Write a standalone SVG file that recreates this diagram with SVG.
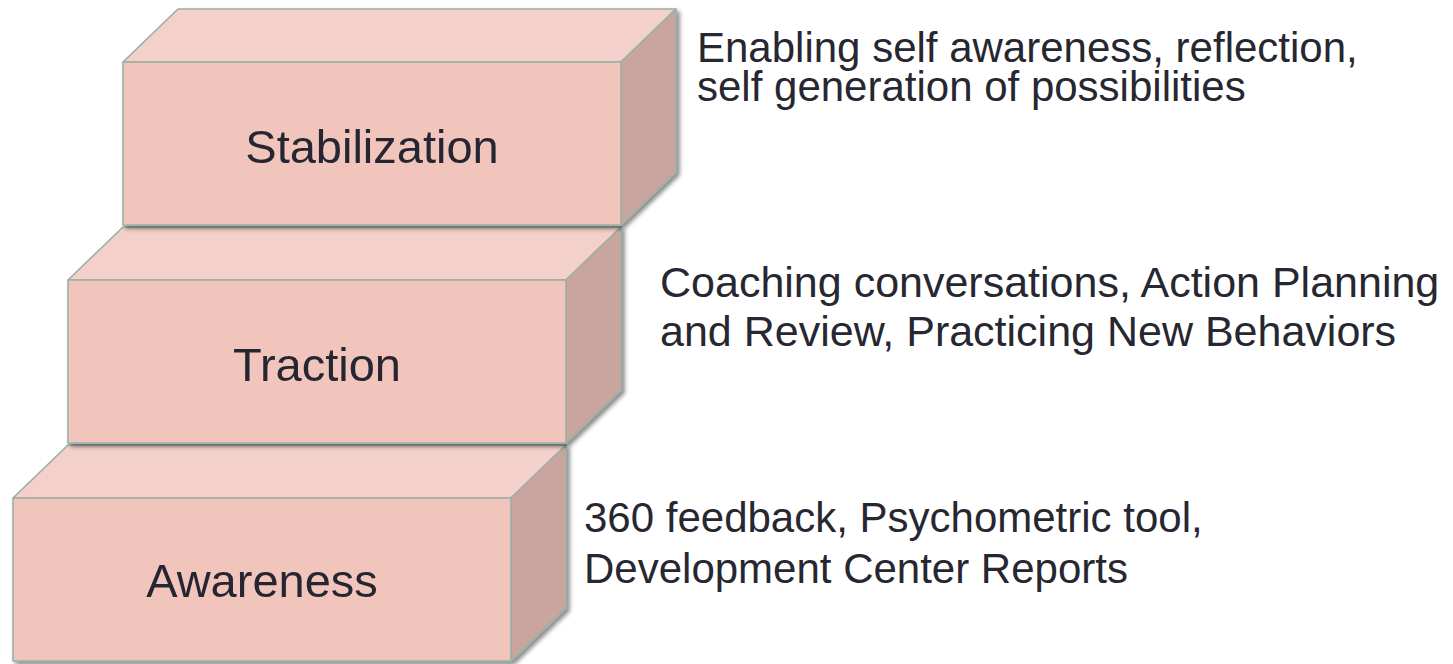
<svg xmlns="http://www.w3.org/2000/svg" width="1453" height="664" viewBox="0 0 1453 664">
<defs>
<filter id="sh" x="-5%" y="-5%" width="115%" height="115%">
<feDropShadow dx="3" dy="3" stdDeviation="2" flood-color="#000" flood-opacity="0.45"/>
</filter>
<style>
.front{fill:#F2C5BC;stroke:#9BAFA5;stroke-width:1.6;stroke-linejoin:round}
.top{fill:#F3D0CA;stroke:#9BAFA5;stroke-width:1.6;stroke-linejoin:round}
.side{fill:#C9A59D;stroke:#9BAFA5;stroke-width:1.6;stroke-linejoin:round}
.lbl{font-family:"Liberation Sans",Arial,sans-serif;font-size:47px;fill:#272731;text-anchor:middle}
.desc{font-family:"Liberation Sans",Arial,sans-serif;font-size:42px;fill:#272731}
</style>
</defs>
<g id="awareness" filter="url(#sh)">
<polygon class="top" points="13,498 68,445 566,445 511,498"/>
<polygon class="side" points="511,498 566,445 566,608 511,661"/>
<rect class="front" x="13" y="498" width="498" height="163"/>
<text class="lbl" x="262" y="597">Awareness</text>
</g>
<g id="traction" filter="url(#sh)">
<polygon class="top" points="68,280 123,227 621,227 566,280"/>
<polygon class="side" points="566,280 621,227 621,390 566,443"/>
<rect class="front" x="68" y="280" width="498" height="163"/>
<text class="lbl" x="317" y="381">Traction</text>
</g>
<g id="stabilization" filter="url(#sh)">
<polygon class="top" points="123,62 178,9 676,9 621,62"/>
<polygon class="side" points="621,62 676,9 676,172 621,225"/>
<rect class="front" x="123" y="62" width="498" height="163"/>
<text class="lbl" x="372" y="163">Stabilization</text>
</g>
<g id="desc-stabilization">
<text class="desc" x="697" y="62">Enabling self awareness, reflection,</text>
<text class="desc" x="697" y="101">self generation of possibilities</text>
</g>
<g id="desc-traction">
<text class="desc" x="660" y="297" style="font-size:43px">Coaching conversations, Action Planning</text>
<text class="desc" x="660" y="346" style="font-size:43px">and Review, Practicing New Behaviors</text>
</g>
<g id="desc-awareness">
<text class="desc" x="584" y="532">360 feedback, Psychometric tool,</text>
<text class="desc" x="584" y="583">Development Center Reports</text>
</g>
<g id="connectors"></g>
</svg>
